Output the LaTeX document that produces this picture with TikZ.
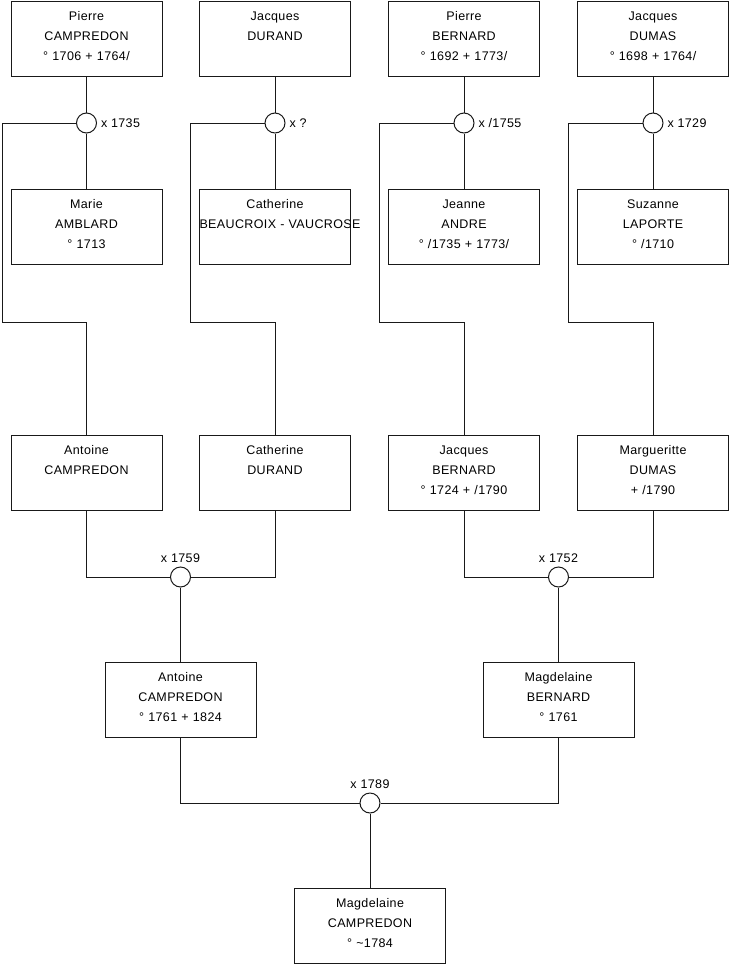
\documentclass[tikz,border=0pt]{standalone}
\usepackage{fontspec}
\setmainfont{Liberation Sans}[LetterSpace=3]
\usetikzlibrary{positioning}

\newcommand{\lstrut}{\rule[-8.5pt]{0pt}{20pt}}
\newcommand{\personne}[3]{\lstrut#1\\\lstrut#2\\\lstrut#3}

\begin{document}
\begin{tikzpicture}[
        x=1pt, y=-1pt,
        line width=1pt,
        personne/.style={
            rectangle,
            draw=black!90,
            fill=white,
            text width=151pt,
            minimum height=75pt,
            inner xsep=0pt,
            inner ysep=0pt,
            align=center,
            font=\fontsize{12.5}{20}\selectfont
        },
        mariage/.style={
            circle,
            draw=black!90,
            fill=white,
            minimum size=20pt,
            inner sep=0pt
        },
        date/.style={font=\fontsize{12.5}{14}\selectfont, inner sep=3.5pt},
        lien/.style={draw=black!90}
    ]
    \useasboundingbox (0,0) rectangle (740,975);

    % arriere-grands-parents
    \node (campP)  [personne] at (86.5,38.5) {\personne{Pierre}{CAMPREDON}{° 1706 + 1764/}};
    \node (durJ)   [personne] at (275,38.5)  {\personne{Jacques}{DURAND}{}};
    \node (berP)   [personne] at (464,38.5)  {\personne{Pierre}{BERNARD}{° 1692 + 1773/}};
    \node (dumJ)   [personne] at (653,38.5)  {\personne{Jacques}{DUMAS}{° 1698 + 1764/}};

    \node (m1) [mariage] at (86.5,123) {};
    \node (m2) [mariage] at (275,123)  {};
    \node (m3) [mariage] at (464,123)  {};
    \node (m4) [mariage] at (653,123)  {};
    \node (d1) [date, right=0pt of m1] {x 1735};
    \node (d2) [date, right=0pt of m2] {x ?};
    \node (d3) [date, right=0pt of m3] {x /1755};
    \node (d4) [date, right=0pt of m4] {x 1729};

    \node (amblM)  [personne] at (86.5,227) {\personne{Marie}{AMBLARD}{° 1713}};
    \node (beauC)  [personne] at (275,227)  {\personne{Catherine}{\mbox{BEAUCROIX - VAUCROSE}}{}};
    \node (andJ)   [personne] at (464,227)  {\personne{Jeanne}{ANDRE}{° /1735 + 1773/}};
    \node (lapS)   [personne] at (653,227)  {\personne{Suzanne}{LAPORTE}{° /1710}};

    \coordinate (s1) at (2,322);
    \coordinate (s2) at (190.5,322);
    \coordinate (s3) at (379.5,322);
    \coordinate (s4) at (568.5,322);

    % grands-parents
    \node (campA)  [personne] at (86.5,472.5) {\personne{Antoine}{CAMPREDON}{}};
    \node (durC)   [personne] at (275,472.5)  {\personne{Catherine}{DURAND}{}};
    \node (berJ)   [personne] at (464,472.5)  {\personne{Jacques}{BERNARD}{° 1724 + /1790}};
    \node (dumM)   [personne] at (653,472.5)  {\personne{Margueritte}{DUMAS}{+ /1790}};

    \node (m5) [mariage] at (180.5,577) {};
    \node (m6) [mariage] at (558.5,577) {};
    \node (d5) [date, above=0pt of m5] {x 1759};
    \node (d6) [date, above=0pt of m6] {x 1752};

    % parents
    \node (campA2) [personne] at (180.5,699.5) {\personne{Antoine}{CAMPREDON}{° 1761 + 1824}};
    \node (berM)   [personne] at (558.5,699.5) {\personne{Magdelaine}{BERNARD}{° 1761}};

    \node (m7) [mariage] at (370,803) {};
    \node (d7) [date, above=0pt of m7] {x 1789};

    \node (campM)  [personne] at (370,926) {\personne{Magdelaine}{CAMPREDON}{° \textasciitilde1784}};

    \draw [lien] (campP) -- (m1);
    \draw [lien] (durJ) -- (m2);
    \draw [lien] (berP) -- (m3);
    \draw [lien] (dumJ) -- (m4);
    \draw [lien] (m1) -- (amblM);
    \draw [lien] (m2) -- (beauC);
    \draw [lien] (m3) -- (andJ);
    \draw [lien] (m4) -- (lapS);

    \draw [lien] (m1.west) -| (s1) -| (campA.north);
    \draw [lien] (m2.west) -| (s2) -| (durC.north);
    \draw [lien] (m3.west) -| (s3) -| (berJ.north);
    \draw [lien] (m4.west) -| (s4) -| (dumM.north);

    \draw [lien] (campA.south) |- (m5.west);
    \draw [lien] (durC.south) |- (m5.east);
    \draw [lien] (berJ.south) |- (m6.west);
    \draw [lien] (dumM.south) |- (m6.east);
    \draw [lien] (m5) -- (campA2);
    \draw [lien] (m6) -- (berM);

    \draw [lien] (campA2.south) |- (m7.west);
    \draw [lien] (berM.south) |- (m7.east);
    \draw [lien] (m7) -- (campM);

\end{tikzpicture}
\end{document}
